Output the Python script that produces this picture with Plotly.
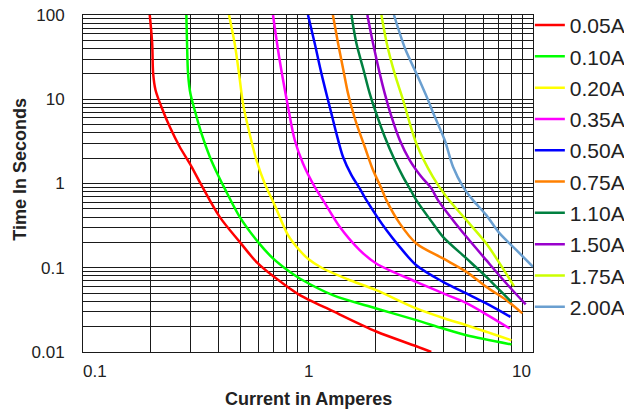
import math
import plotly.graph_objects as go

# Fuse rating labels
ratings = ["0.05A", "0.10A", "0.20A", "0.35A", "0.50A", "0.75A", "1.10A", "1.50A", "1.75A", "2.00A"]
colors = ["#ff0000", "#00ff00", "#ffff00", "#ff00ff", "#0000ff", "#ff8000", "#008040", "#9900cc", "#ccff00", "#6a9fd0"]

# Current (A) / time (s)
a005_x = [0.198, 0.203, 0.205, 0.210, 0.223, 0.243, 0.269, 0.298, 0.336, 0.405, 0.497, 0.599, 0.829, 0.919, 1.29, 2.01, 3.03, 3.53]
a005_y = [100, 46.1, 20.3, 12.9, 8.15, 4.71, 2.73, 1.73, 0.957, 0.402, 0.203, 0.1125, 0.0568, 0.0473, 0.0305, 0.0175, 0.0117, 0.0100]

a010_x = [0.288, 0.290, 0.293, 0.300, 0.3135, 0.336, 0.366, 0.398, 0.426, 0.497, 0.599, 0.699, 0.829, 0.919, 1.29, 2.01, 3.03, 3.98, 5.06, 8.02]
a010_y = [100, 46.1, 20.3, 11.75, 7.45, 3.94, 2.08, 1.26, 0.875, 0.402, 0.203, 0.129, 0.0894, 0.0746, 0.0473, 0.0329, 0.0239, 0.019, 0.0158, 0.0123]

a020_x = [0.4455, 0.472, 0.4935, 0.514, 0.541, 0.590, 0.642, 0.711, 0.815, 0.919, 1.0, 1.15, 1.5, 2.01, 3.03, 4.05, 5.06, 8.02]
a020_y = [100, 46.1, 20.3, 8.94, 4.71, 1.896, 1.0, 0.554, 0.244, 0.16, 0.128, 0.1, 0.073, 0.0542, 0.0329, 0.025, 0.0208, 0.0138]

a035_x = [0.699, 0.748, 0.815, 0.873, 0.95, 1.071, 1.166, 1.383, 1.697, 2.01, 3.03, 4.12, 5.06, 6.2, 7.88]
a035_y = [100, 29.2, 8.15, 3.28, 1.73, 0.914, 0.635, 0.306, 0.162, 0.1125, 0.068, 0.048, 0.038, 0.028, 0.019]

a050_x = [1.0, 1.071, 1.147, 1.227, 1.27, 1.337, 1.43, 1.56, 1.697, 1.818, 2.23, 2.556, 3.03, 3.98, 5.06, 6.2, 7.94]
a050_y = [100, 46.1, 20.3, 9.78, 6.8, 3.94, 2.076, 1.258, 0.875, 0.635, 0.28, 0.177, 0.107, 0.068, 0.0495, 0.0377, 0.0261]

a075_x = [1.29, 1.36, 1.43, 1.506, 1.56, 1.641, 1.787, 1.945, 2.12, 2.23, 2.556, 3.03, 3.98, 5.06, 6.2, 7.62, 8.97]
a075_y = [100, 46.1, 23.5, 11.75, 8.15, 5.17, 2.73, 1.443, 0.875, 0.635, 0.336, 0.194, 0.129, 0.0894, 0.0593, 0.0412, 0.0287]

a110_x = [1.56, 1.641, 1.756, 1.88, 2.01, 2.193, 2.428, 2.645, 2.83, 3.03, 3.59, 3.98, 5.06, 6.2, 7.11, 8.02]
a110_y = [100, 46.1, 23.5, 11.75, 6.8, 3.59, 1.896, 1.2, 0.875, 0.635, 0.336, 0.233, 0.129, 0.078, 0.0542, 0.0394]

a150_x = [1.836, 1.945, 2.083, 2.193, 2.35, 2.556, 2.83, 3.19, 3.535, 3.78, 4.41, 5.06, 6.2, 7.62, 9.28]
a150_y = [100, 46.1, 20.3, 11.75, 6.2, 3.28, 1.896, 1.2, 0.875, 0.635, 0.367, 0.233, 0.123, 0.065, 0.0367]

a175_x = [2.12, 2.24, 2.43, 2.64, 3.03, 3.59, 4.12, 5.06, 6.2, 7.11, 8.23]
a175_y = [100, 46.0, 20.0, 10.0, 2.99, 1.2, 0.695, 0.367, 0.194, 0.1125, 0.0605]

a200_x = [2.41, 2.7, 3.03, 3.4, 3.59, 4.05, 4.41, 4.89, 5.41, 6.2, 7.11, 8.44, 10.0]
a200_y = [100, 40.0, 20.3, 10.1, 7.0, 3.28, 1.58, 0.914, 0.635, 0.421, 0.2555, 0.162, 0.1025]

series_x = [a005_x, a010_x, a020_x, a035_x, a050_x, a075_x, a110_x, a150_x, a175_x, a200_x]
series_y = [a005_y, a010_y, a020_y, a035_y, a050_y, a075_y, a110_y, a150_y, a175_y, a200_y]

y_tickvals = [0.01, 0.1, 1, 10, 100]
y_ticktext = ["0.01", "0.1", "1", "10", "100"]
x_tickvals = [0.1, 1, 10]
x_ticktext = ["0.1", "1", "10"]
x_anchors = ["left", "center", "right"]

FONT = "Liberation Sans, Arial, sans-serif"
GRID = "#1a1a1a"

fig = go.Figure()
for name, col, xs, ys in zip(ratings, colors, series_x, series_y):
    fig.add_trace(go.Scatter(
        x=xs, y=ys, mode="lines", name=name, legendgroup=name,
        line=dict(color=col, width=2.5, shape="spline", smoothing=0.9),
    ))

annotations = []
for v, t, anc in zip(x_tickvals, x_ticktext, x_anchors):
    annotations.append(dict(
        x=math.log10(v), xref="x", y=0, yref="paper", yshift=-19, yanchor="middle",
        xanchor=anc, xshift=(-2 if anc == "left" else 0), text=t, showarrow=False,
        font=dict(family=FONT, size=17, color="#222"),
    ))
annotations.append(dict(
    x=0.5, xref="paper", y=0, yref="paper", yshift=-47, yanchor="middle", xanchor="center",
    text="<b>Current in Amperes</b>", showarrow=False, font=dict(family=FONT, size=18, color="#222"),
))
annotations.append(dict(
    x=0, xref="paper", xshift=-63, y=0.541, yref="paper", yanchor="middle", xanchor="center",
    text="<b>Time In Seconds</b>", textangle=-90, showarrow=False,
    font=dict(family=FONT, size=18, color="#222"),
))

fig.update_layout(
    width=624, height=402,
    margin=dict(l=75, r=99, t=7, b=58, autoexpand=False),
    paper_bgcolor="white", plot_bgcolor="white",
    font=dict(family=FONT, color="#222"),
    showlegend=True,
    legend=dict(
        x=0.993, xanchor="left", y=1.03, yanchor="top",
        font=dict(family=FONT, size=21, color="#222"),
        traceorder="grouped", tracegroupgap=1, maxheight=600,
        bgcolor="rgba(0,0,0,0)", borderwidth=0,
    ),
    annotations=annotations,
    xaxis=dict(
        type="log", range=[-1, 1], dtick=1,
        showgrid=True, gridcolor=GRID, gridwidth=1,
        minor=dict(dtick="D1", showgrid=True, gridcolor=GRID, gridwidth=1),
        showline=True, linecolor=GRID, linewidth=1, mirror=True,
        zeroline=False, showticklabels=False, ticks="",
    ),
    yaxis=dict(
        type="log", range=[-2, 2],
        tickvals=y_tickvals, ticktext=y_ticktext,
        tickfont=dict(family=FONT, size=17, color="#222"),
        ticklabelstandoff=14, ticklabeloverflow="allow",
        showgrid=True, gridcolor=GRID, gridwidth=1,
        minor=dict(dtick="D1", showgrid=True, gridcolor=GRID, gridwidth=1),
        showline=True, linecolor=GRID, linewidth=1, mirror=True,
        zeroline=False, ticks="",
    ),
)

fig.write_html("out.html")
